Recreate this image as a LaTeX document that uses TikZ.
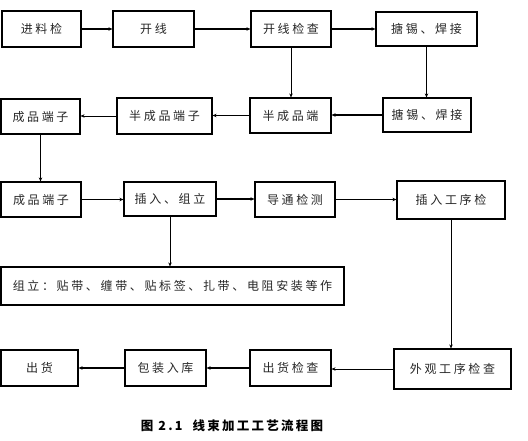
\documentclass[tikz,border=0pt]{standalone}
\usepackage{fontspec}
\newfontfamily\cjk[LetterSpace=22]{Noto Sans CJK SC}
\newfontfamily\cjkcap[LetterSpace=18]{Noto Sans CJK SC}
\usetikzlibrary{arrows.meta}
\begin{document}
\begin{tikzpicture}[x=1pt,y=-1pt,
  box/.style={draw,line width=1.2pt,inner sep=0pt,font=\cjk\fontsize{12}{14}\selectfont,text=black!85},
  thick arrow/.style={line width=1.6pt,-{Stealth[length=4pt,width=3.5pt]}},
  thin arrow/.style={line width=0.6pt,-{Stealth[length=4pt,width=3.5pt]}}]
\useasboundingbox (0,0) rectangle (528,441);
\def\bx#1#2#3#4#5#6{\node[box,minimum width={(#4)-(#2)},minimum height={(#5)-(#3)}] (#1) at ({((#2)+(#4))/2},{((#3)+(#5))/2}) {#6};}
% row 1
\bx{a1}{2}{11}{81}{47}{进料检}
\bx{a2}{113}{11}{194}{47}{开线}
\bx{a3}{251}{11}{331}{47}{开线检查}
\bx{a4}{376}{12}{477}{46}{搪锡、焊接}
% row 2
\bx{b1}{1}{99}{80}{134}{成品端子}
\bx{b2}{117}{98}{212}{134}{半成品端子}
\bx{b3}{250}{98}{331}{133}{半成品端}
\bx{b4}{383}{98}{471}{132}{搪锡、焊接}
% row 3
\bx{c1}{1}{182}{81}{217}{成品端子}
\bx{c2}{124}{182}{216}{216}{插入、组立}
\bx{c3}{255}{182}{335}{217}{导通检测}
\bx{c4}{397}{181}{505}{219}{插入工序检}
% row 4
\bx{d1}{1}{267}{344}{305}{组立：贴带、缠带、贴标签、扎带、电阻安装等作}
% row 5
\bx{e1}{1}{350}{78}{386}{出货}
\bx{e2}{125}{350}{206}{386}{包装入库}
\bx{e3}{250}{350}{331}{386}{出货检查}
\bx{e4}{394}{349}{511}{389}{外观工序检查}
% caption
\node[font=\cjkcap\fontsize{12.5}{14}\selectfont\bfseries] (cap) at (232,426) {图 2.1\ \ 线束加工工艺流程图};
% connectors row 1
\draw[thick arrow] (a1.east) -- (a2.west);
\draw[thick arrow] (a2.east) -- (a3.west);
\draw[thick arrow] (a3.east) -- (a3.east -| a4.west);
\draw[thin arrow] (a3.south) -- (a3.south |- b3.north);
\draw[thin arrow] (a4.south) -- (a4.south |- b4.north);
% row 2
\draw[thick arrow] (b4.west) -- (b4.west -| b3.east);
\draw[thin arrow] (b3.west) -- (b3.west -| b2.east);
\draw[thin arrow] (b2.west) -- (b2.west -| b1.east);
\draw[thin arrow] (b1.south) -- (b1.south |- c1.north);
% row 3
\draw[thick arrow] (c1.east) -- (c1.east -| c2.west);
\draw[thick arrow] (c2.east) -- (c2.east -| c3.west);
\draw[thin arrow] (c3.east) -- (c3.east -| c4.west);
\draw[thin arrow] (c2.south) -- (c2.south |- d1.north);
\draw[thin arrow] (c4.south) -- (c4.south |- e4.north);
% row 5
\draw[thin arrow] (e4.west) -- (e4.west -| e3.east);
\draw[thick arrow] (e3.west) -- (e3.west -| e2.east);
\draw[thick arrow] (e2.west) -- (e2.west -| e1.east);
\end{tikzpicture}
\end{document}
